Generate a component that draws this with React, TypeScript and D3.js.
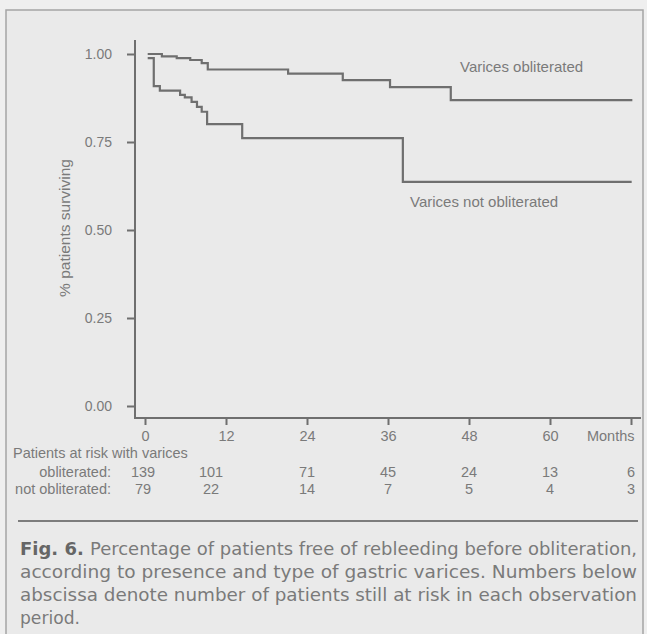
import React, { useEffect, useRef } from 'react';
import * as d3 from 'd3';

const WIDTH = 647;
const HEIGHT = 634;

// Kaplan-Meier steps (month, fraction free of rebleeding)
const obliteratedMonths = [0.4, 2.5, 4.7, 6.7, 8.4, 9.3, 21.2, 29.3, 36.3, 45.3, 72.2];
const obliteratedSurvival = [1.0, 0.993, 0.988, 0.983, 0.974, 0.956, 0.944, 0.926, 0.906, 0.869, 0.869];

const notObliteratedMonths = [0.4, 1.3, 2.2, 5.2, 5.9, 6.9, 7.7, 8.4, 9.2, 14.4, 38.2, 72.1];
const notObliteratedSurvival = [0.988, 0.909, 0.896, 0.884, 0.877, 0.864, 0.85, 0.836, 0.801, 0.761, 0.637, 0.637];

const xTicks = [0, 12, 24, 36, 48, 60, 72];
const xTickLabels = ['0', '12', '24', '36', '48', '60', 'Months'];
const yTicks = [0, 0.25, 0.5, 0.75, 1];

const atRiskObliterated = [139, 101, 71, 45, 24, 13, 6];
const atRiskNotObliterated = [79, 22, 14, 7, 5, 4, 3];

const captionLines = [
  'Percentage of patients free of rebleeding before obliteration,',
  'according to presence and type of gastric varices. Numbers below',
  'abscissa denote number of patients still at risk in each observation',
  'period.',
];

const INK = '#6f6f6f';
const TEXT = '#7a7a7a';
const FONT = '"Liberation Sans", Arial, sans-serif';

export default function App() {
  const svgRef = useRef<SVGSVGElement | null>(null);

  useEffect(() => {
    if (!svgRef.current) return;
    const svg = d3.select(svgRef.current);
    svg.selectAll('*').remove();

    const x = d3.scaleLinear().domain([0, 72]).range([145, 631]);
    const y = d3.scaleLinear().domain([0, 1]).range([406, 54]);
    const axisY = 418;
    const axisX = 135;

    svg.append('rect').attr('width', WIDTH).attr('height', HEIGHT).attr('fill', '#efefef');
    svg.append('rect')
      .attr('x', 6).attr('y', 10)
      .attr('width', 637).attr('height', HEIGHT)
      .attr('fill', '#eaeaea')
      .attr('stroke', '#a5a5a5')
      .attr('stroke-width', 1.5);

    // axes lines
    svg.append('line')
      .attr('x1', axisX).attr('x2', axisX)
      .attr('y1', 40).attr('y2', axisY)
      .attr('stroke', INK).attr('stroke-width', 2);
    svg.append('line')
      .attr('x1', axisX - 1).attr('x2', 641)
      .attr('y1', axisY).attr('y2', axisY)
      .attr('stroke', INK).attr('stroke-width', 2);

    const yAxis = svg.append('g')
      .attr('transform', `translate(${axisX},0)`)
      .call(d3.axisLeft(y).tickValues(yTicks).tickFormat(d3.format('.2f')).tickSize(8).tickPadding(15));
    yAxis.select('.domain').remove();
    yAxis.selectAll('line').attr('stroke', INK).attr('stroke-width', 2);
    yAxis.selectAll('text')
      .attr('fill', TEXT).attr('font-size', 14).attr('font-family', FONT);

    const xAxis = svg.append('g')
      .attr('transform', `translate(0,${axisY})`)
      .call(d3.axisBottom(x).tickValues(xTicks).tickFormat((_, i) => xTickLabels[i]).tickSize(7).tickPadding(6));
    xAxis.select('.domain').remove();
    xAxis.selectAll('line').attr('stroke', INK).attr('stroke-width', 2);
    xAxis.selectAll('text')
      .attr('fill', TEXT).attr('font-size', 14.5).attr('font-family', FONT)
      .attr('text-anchor', (_, i) => (i === xTicks.length - 1 ? 'end' : 'middle'))
      .attr('dx', (_, i) => (i === xTicks.length - 1 ? 3 : 0));

    svg.append('text')
      .attr('transform', `translate(70,228) rotate(-90)`)
      .attr('text-anchor', 'middle')
      .attr('fill', TEXT).attr('font-size', 15.5).attr('font-family', FONT)
      .text('%  patients surviving');

    // survival curves
    const line = d3.line<[number, number]>()
      .x(d => x(d[0]))
      .y(d => y(d[1]))
      .curve(d3.curveStepAfter);

    const series = [
      d3.zip(obliteratedMonths, obliteratedSurvival) as [number, number][],
      d3.zip(notObliteratedMonths, notObliteratedSurvival) as [number, number][],
    ];
    svg.append('g')
      .selectAll('path')
      .data(series)
      .join('path')
      .attr('d', d => line(d))
      .attr('fill', 'none')
      .attr('stroke', INK)
      .attr('stroke-width', 2.2);

    svg.append('text')
      .attr('x', 460).attr('y', 72)
      .attr('fill', TEXT).attr('font-size', 15).attr('font-family', FONT)
      .text('Varices obliterated');
    svg.append('text')
      .attr('x', 410).attr('y', 207)
      .attr('fill', TEXT).attr('font-size', 15).attr('font-family', FONT)
      .text('Varices not obliterated');

    // at-risk table
    const table = svg.append('g').attr('fill', TEXT).attr('font-size', 14.5).attr('font-family', FONT);
    table.append('text').attr('x', 13).attr('y', 458).text('Patients at risk with varices');
    table.append('text').attr('x', 111).attr('y', 477).attr('text-anchor', 'end').text('obliterated:');
    table.append('text').attr('x', 111).attr('y', 494).attr('text-anchor', 'end').text('not obliterated:');
    [atRiskObliterated, atRiskNotObliterated].forEach((row, r) => {
      table.append('g')
        .selectAll('text')
        .data(row)
        .join('text')
        .attr('x', (_, i) => x(xTicks[i]) - (i === 0 ? 2 : i === 1 ? 15 : 0))
        .attr('y', r === 0 ? 477 : 494)
        .attr('text-anchor', 'middle')
        .text(d => d);
    });

    svg.append('line')
      .attr('x1', 18).attr('x2', 638)
      .attr('y1', 521).attr('y2', 521)
      .attr('stroke', '#7d7d7d').attr('stroke-width', 2);

    // caption
    const cap = svg.append('g')
      .attr('font-family', '"DejaVu Sans", sans-serif')
      .attr('font-size', 17)
      .attr('fill', TEXT);
    captionLines.forEach((txt, i) => {
      const t = cap.append('text').attr('x', 20).attr('y', 555 + i * 23);
      if (i === 0) {
        t.append('tspan').attr('font-weight', 'bold').attr('fill', '#666').text('Fig. 6. ');
      }
      t.append('tspan').text(txt);
      if (i < captionLines.length - 1) {
        t.attr('textLength', 617).attr('lengthAdjust', 'spacingAndGlyphs');
      } else {
        t.attr('textLength', 60).attr('lengthAdjust', 'spacingAndGlyphs');
      }
    });
  }, []);

  return (
    <svg
      ref={svgRef}
      width={WIDTH}
      height={HEIGHT}
      style={{ position: 'absolute', left: 0, top: 0 }}
    />
  );
}
